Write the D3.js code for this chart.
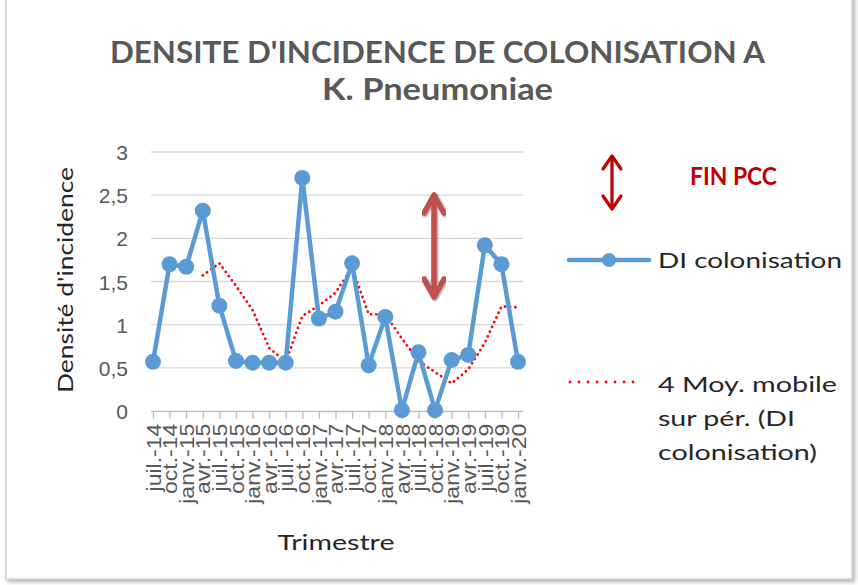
<!DOCTYPE html>
<html>
<meta charset="utf-8">
<style>
	body { margin: 0; padding: 0; background: #fff; }
	svg { display: block; font-family: Lato, "Open Sans", sans-serif; }
	.grid line { stroke: #d9d9d9; stroke-width: 1.3px; }
	.axis--x path, .axis--x line { stroke: #bfbfbf; stroke-width: 1.3px; }
	.axis--x text { fill: #595959; font-size: 20px; }
	.axis--y path, .axis--y line { display: none; }
	.axis--y text { fill: #595959; font-size: 21px; }
</style>
<body>
<svg id="chart" width="858" height="585"></svg>
<script src="https://cdn.jsdelivr.net/npm/d3@7"></script>
<script>
// trimestres
var quarters = ["juil.-14","oct.-14","janv.-15","avr.-15","juil.-15","oct.-15","janv.-16","avr.-16",
	"juil.-16","oct.-16","janv.-17","avr.-17","juil.-17","oct.-17","janv.-18","avr.-18",
	"juil.-18","oct.-18","janv.-19","avr.-19","juil.-19","oct.-19","janv.-20"];

// DI colonisation
var diValues = [0.57,1.70,1.67,2.32,1.22,0.58,0.56,0.56,0.56,2.70,1.07,1.15,1.71,0.53,1.09,0.01,
	0.68,0.01,0.59,0.65,1.92,1.70,0.57];

// 4 Moy. mobile (starts on 4th quarter)
var maValues = [null,null,null,1.57,1.71,1.45,1.17,0.73,0.57,1.10,1.22,1.37,1.66,1.12,1.12,0.84,
	0.58,0.45,0.32,0.48,0.79,1.21,1.20];

var yTicks = [0,0.5,1,1.5,2,2.5,3];

var legendLines = ["4 Moy. mobile","sur pér. (DI","colonisation)"];
var legendWidths = [179,137,159];

var svg = d3.select("#chart");

// chart frame with soft shadow
var defs = svg.append("defs");
var f = defs.append("filter").attr("id","shadow").attr("x","-5%").attr("y","-5%").attr("width","110%").attr("height","110%");
f.append("feDropShadow").attr("dx",2).attr("dy",2).attr("stdDeviation",2).attr("flood-color","#000").attr("flood-opacity",0.35);
var f2 = defs.append("filter").attr("id","ashadow");
f2.append("feDropShadow").attr("dx",1).attr("dy",1).attr("stdDeviation",1).attr("flood-color","#000").attr("flood-opacity",0.45);

svg.append("rect")
	.attr("x",6).attr("y",-10).attr("width",846).attr("height",589)
	.attr("fill","#fff").attr("stroke","#d0d0d0").attr("stroke-width",1.5)
	.attr("filter","url(#shadow)");

var x = d3.scalePoint().domain(quarters).range([153, 518]);
var y = d3.scaleLinear().domain([0,3]).range([411, 152]);

// gridlines
svg.append("g").attr("class","grid")
	.selectAll("line").data(yTicks.slice(1)).enter().append("line")
	.attr("x1",151).attr("x2",523)
	.attr("y1",function(d){ return y(d); }).attr("y2",function(d){ return y(d); });

// axes
svg.append("g").attr("class","axis axis--y")
	.attr("transform","translate(151,0)")
	.call(d3.axisLeft(y).tickValues(yTicks).tickSize(0).tickPadding(23)
		.tickFormat(function(d){ return String(d).replace(".", ","); }))
	.selectAll("text").attr("dy","0.36em");

var xAxis = svg.append("g").attr("class","axis axis--x")
	.attr("transform","translate(0,411)")
	.call(d3.axisBottom(x).tickSizeInner(8).tickSizeOuter(0));
xAxis.select(".domain").attr("d","M151,0.5H523");
xAxis.selectAll("text")
	.attr("transform","rotate(-90) scale(1.15,1)")
	.attr("text-anchor","end")
	.attr("x",-11).attr("y",0).attr("dy","0.36em");

// moving average (red dotted)
var maLine = d3.line()
	.defined(function(d){ return d.v !== null; })
	.x(function(d){ return x(d.q); })
	.y(function(d){ return y(d.v); });
svg.append("path")
	.datum(quarters.map(function(q,i){ return {q:q, v:maValues[i]}; }))
	.attr("fill","none").attr("stroke","#ff0000").attr("stroke-width",2.8)
	.attr("stroke-linecap","round").attr("stroke-dasharray","0 5.2")
	.attr("d", maLine);

// DI colonisation
var diData = quarters.map(function(q,i){ return {q:q, v:diValues[i]}; });
var diLine = d3.line().x(function(d){ return x(d.q); }).y(function(d){ return y(d.v); });
svg.append("path").datum(diData)
	.attr("fill","none").attr("stroke","#5b9bd5").attr("stroke-width",4.5)
	.attr("stroke-linejoin","round").attr("d", diLine);
svg.append("g").selectAll("circle").data(diData).enter().append("circle")
	.attr("cx",function(d){ return x(d.q); })
	.attr("cy",function(d){ return y(d.v); })
	.attr("r",8).attr("fill","#5b9bd5");

// double arrows (FIN PCC)
function doubleArrow(g, cx, y1, y2, color, width, head, hh, filter) {
	var grp = g.append("g").attr("fill","none").attr("stroke",color).attr("stroke-width",width)
		.attr("stroke-linecap","round").attr("stroke-linejoin","round");
	if (filter) grp.attr("filter", filter);
	grp.append("path").attr("d","M"+cx+","+(y1+2)+"V"+(y2-2));
	grp.append("path").attr("d","M"+(cx-head)+","+(y1+hh)+"L"+cx+","+y1+"L"+(cx+head)+","+(y1+hh));
	grp.append("path").attr("d","M"+(cx-head)+","+(y2-hh)+"L"+cx+","+y2+"L"+(cx+head)+","+(y2-hh));
}
doubleArrow(svg, 434, 195, 297, "#c0504d", 5.5, 10, 18, "url(#ashadow)");
doubleArrow(svg, 612, 156, 209, "#c00000", 3.2, 9, 13, null);

svg.append("text").attr("x",690).attr("y",185)
	.attr("fill","#c00000").attr("font-weight","bold").attr("font-size",24)
	.attr("textLength",87).attr("lengthAdjust","spacingAndGlyphs")
	.text("FIN PCC");

// titles
var title = svg.append("g").attr("fill","#595959").attr("font-weight","bold")
	.attr("font-size",30).attr("text-anchor","middle");
title.append("text").attr("x",437.5).attr("y",63)
	.attr("textLength",655).attr("lengthAdjust","spacingAndGlyphs")
	.text("DENSITE D'INCIDENCE DE COLONISATION A");
title.append("text").attr("x",437.5).attr("y",100)
	.attr("textLength",231).attr("lengthAdjust","spacingAndGlyphs")
	.text("K. Pneumoniae");

svg.append("text").attr("transform","translate(73,280) rotate(-90)")
	.attr("text-anchor","middle").attr("font-size",21).attr("fill","#262626")
	.attr("textLength",226).attr("lengthAdjust","spacingAndGlyphs")
	.text("Densité d'incidence");

svg.append("text").attr("x",336).attr("y",550)
	.attr("text-anchor","middle").attr("font-size",21).attr("fill","#262626")
	.attr("textLength",117).attr("lengthAdjust","spacingAndGlyphs")
	.text("Trimestre");

// legend
var leg = svg.append("g").attr("font-size",21).attr("fill","#262626");
leg.append("line").attr("x1",569).attr("x2",649).attr("y1",260).attr("y2",260)
	.attr("stroke","#5b9bd5").attr("stroke-width",4.5).attr("stroke-linecap","round");
leg.append("circle").attr("cx",609).attr("cy",260).attr("r",7).attr("fill","#5b9bd5");
leg.append("text").attr("x",658).attr("y",268)
	.attr("textLength",184).attr("lengthAdjust","spacingAndGlyphs")
	.text("DI colonisation");

leg.append("line").attr("x1",570).attr("x2",642).attr("y1",382).attr("y2",382)
	.attr("stroke","#ff0000").attr("stroke-width",2.8)
	.attr("stroke-linecap","round").attr("stroke-dasharray","0 9");
legendLines.forEach(function(t,i){
	leg.append("text").attr("x",658).attr("y",392 + i*34)
		.attr("textLength",legendWidths[i]).attr("lengthAdjust","spacingAndGlyphs")
		.text(t);
});
</script>
</body>
</html>
